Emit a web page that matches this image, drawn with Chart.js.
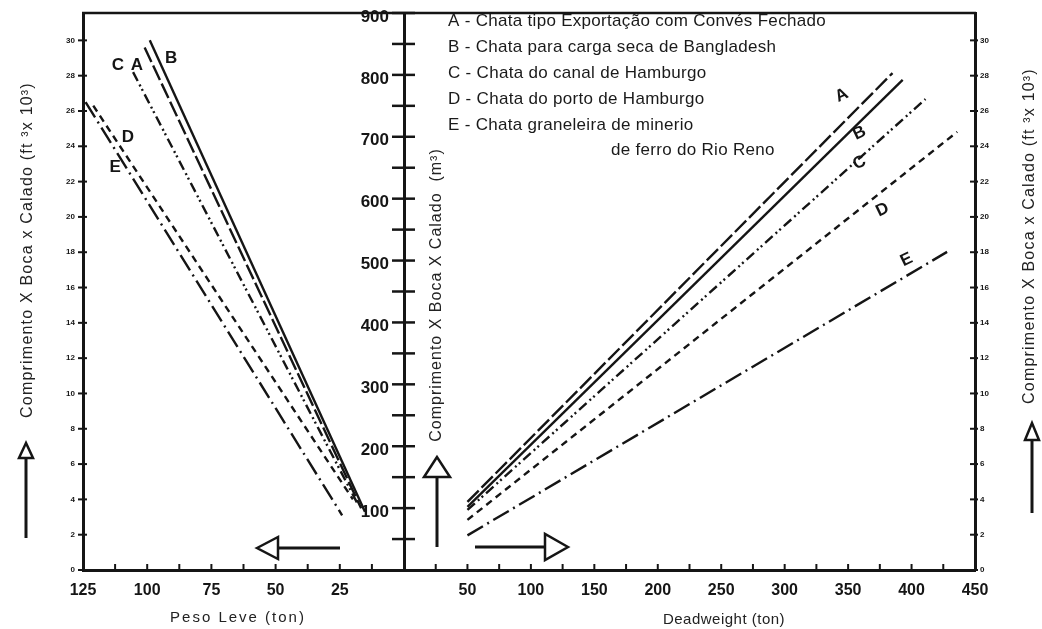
<!DOCTYPE html>
<html>
<head>
<meta charset="utf-8">
<script src="https://cdn.jsdelivr.net/npm/chart.js@4.4.0/dist/chart.umd.min.js"></script>
<style>
  html, body { margin: 0; padding: 0; background: #fff; }
  #wrap { position: relative; width: 1042px; height: 629px; overflow: hidden; }
  .box { position: absolute; top: 0; height: 629px; }
</style>
</head>
<body>
<div id="wrap">
  <div class="box" style="left:0;width:420px"><canvas id="leftChart"></canvas></div>
  <div class="box" style="left:340px;width:702px"><canvas id="rightChart"></canvas></div>
</div>
<script>
// Series (barge types)
var seriesLetters = ['A', 'B', 'C', 'D', 'E'];
var legendLines = [
    'A - Chata tipo Exportação com Convés Fechado',
    'B - Chata para carga seca de Bangladesh',
    'C - Chata do canal de Hamburgo',
    'D - Chata do porto de Hamburgo',
    'E - Chata graneleira de minerio'
];
var legendLast = 'de ferro do Rio Reno';

// Left panel: Peso Leve (ton) vs volume (ft3 x 10^3), end points of each line
var pesoLeveTop = [101, 99, 105.5, 121, 124];
var pesoLeveTopVol = [29.6, 30.0, 28.2, 26.3, 26.5];
var pesoLeveBottom = [16.7, 15.2, 17.9, 19.9, 24.1];
var pesoLeveBottomVol = [3.5, 3.3, 3.7, 4.0, 3.1];

// Right panel: Deadweight (ton) vs volume (m3), end points of each line
var deadweightStart = [50, 50, 50, 50, 50];
var deadweightStartVol = [110, 102, 97, 81, 56];
var deadweightEnd = [385, 393, 411, 436, 428];
var deadweightEndVol = [803, 792, 761, 708, 514];

// Ticks
var pesoLeveTicks = [0, 12.5, 25, 37.5, 50, 62.5, 75, 87.5, 100, 112.5, 125];
var pesoLeveLabels = [25, 50, 75, 100, 125];
var deadweightTicks = [0, 25, 50, 75, 100, 125, 150, 175, 200, 225, 250, 275, 300, 325, 350, 375, 400, 425, 450];
var deadweightLabels = [50, 100, 150, 200, 250, 300, 350, 400, 450];
var ft3Ticks = [0, 2, 4, 6, 8, 10, 12, 14, 16, 18, 20, 22, 24, 26, 28, 30];
var m3Ticks = [0, 50, 100, 150, 200, 250, 300, 350, 400, 450, 500, 550, 600, 650, 700, 750, 800, 850, 900];
var m3Labels = [100, 200, 300, 400, 500, 600, 700, 800, 900];

// Label spots for the letters (data coordinates)
var pesoLeveLetterX = [104, 90.7, 111.4, 107.5, 112.5];
var pesoLeveLetterY = [28.6, 29.0, 28.6, 24.5, 22.8];
var deadweightLetterX = [345, 359, 359, 377, 396];
var deadweightLetterY = [767, 706, 658, 582, 501];

var INK = '#151515';
var FONT = '"Liberation Sans", Arial, sans-serif';
var dashes = [[16, 4], [], [10, 4, 2, 3, 2, 4], [7, 5], [18, 5, 2, 5]];

function seg(ctx, x1, y1, x2, y2) {
    ctx.beginPath();
    ctx.moveTo(x1, y1);
    ctx.lineTo(x2, y2);
    ctx.stroke();
}

// hollow arrow pointing up
function arrowUp(ctx, x, tip, base, end, half) {
    ctx.lineWidth = 3;
    seg(ctx, x, base, x, end);
    ctx.lineWidth = 2.5;
    ctx.beginPath();
    ctx.moveTo(x, tip);
    ctx.lineTo(x - half, base);
    ctx.lineTo(x + half, base);
    ctx.closePath();
    ctx.fillStyle = '#fff';
    ctx.fill();
    ctx.stroke();
}

// hollow arrow pointing sideways
function arrowSide(ctx, y, tip, base, end, half) {
    ctx.lineWidth = 3;
    seg(ctx, base, y, end, y);
    ctx.lineWidth = 2.5;
    ctx.beginPath();
    ctx.moveTo(tip, y);
    ctx.lineTo(base, y - half);
    ctx.lineTo(base, y + half);
    ctx.closePath();
    ctx.fillStyle = '#fff';
    ctx.fill();
    ctx.stroke();
}

function spacedText(ctx, text, x, y, font, spacing) {
    ctx.font = font;
    ctx.letterSpacing = spacing || '0px';
    ctx.fillText(text, x, y);
    ctx.letterSpacing = '0px';
}

function vText(ctx, text, x, y, font, spacing) {
    ctx.save();
    ctx.translate(x, y);
    ctx.rotate(-Math.PI / 2);
    ctx.textAlign = 'center';
    ctx.textBaseline = 'middle';
    spacedText(ctx, text, 0, 0, font, spacing);
    ctx.restore();
}

function buildSets(xa, ya, xb, yb, axisId) {
    return seriesLetters.map(function(name, i) {
        return {
            label: name,
            data: [{ x: xa[i], y: ya[i] }, { x: xb[i], y: yb[i] }],
            yAxisID: axisId,
            borderColor: INK,
            borderWidth: 2.4,
            borderDash: dashes[i],
            pointRadius: 0,
            fill: false,
            tension: 0
        };
    });
}

function fixedTicks(values) {
    return function(scale) {
        scale.ticks = values.map(function(v) { return { value: v }; });
    };
}

// fixed axis box sizes so both charts line up with the picture
function boxWidth(w) {
    return function(s) { s.width = w; s.paddingTop = 0; s.paddingBottom = 0; };
}
function boxHeight(h) {
    return function(s) { s.height = h; s.paddingLeft = 0; s.paddingRight = 0; };
}

// ---------- Left chart (Peso Leve) ----------
var leftDecor = {
    id: 'leftDecor',
    afterDraw: function(chart) {
        var ctx = chart.ctx, a = chart.chartArea;
        var xs = chart.scales.x, ys = chart.scales.y;
        ctx.save();
        ctx.strokeStyle = INK;
        ctx.fillStyle = INK;
        ctx.lineWidth = 2.5;
        seg(ctx, a.left - 1, a.top, a.right, a.top);

        ctx.lineWidth = 2;
        pesoLeveTicks.forEach(function(v) {
            var px = xs.getPixelForValue(v);
            seg(ctx, px, a.bottom, px, a.bottom - 6);
        });
        ft3Ticks.forEach(function(v) {
            var py = ys.getPixelForValue(v);
            seg(ctx, a.left - 5, py, a.left + 4, py);
        });

        ctx.textAlign = 'center';
        ctx.textBaseline = 'middle';
        seriesLetters.forEach(function(name, i) {
            spacedText(ctx, name, xs.getPixelForValue(pesoLeveLetterX[i]), ys.getPixelForValue(pesoLeveLetterY[i]), 'bold 17px ' + FONT);
        });

        ctx.fillStyle = '#222';
        vText(ctx, 'Comprimento X Boca x Calado (ft \u00b3x 10\u00b3)', 28, 250, '16px ' + FONT, '1.2px');
        ctx.textAlign = 'center';
        spacedText(ctx, 'Peso Leve (ton)', 238, 618, '15px ' + FONT, '2px');

        ctx.strokeStyle = INK;
        arrowUp(ctx, 26, 443, 458, 538, 7);
        arrowSide(ctx, 548, 257, 278, 340, 11);
        ctx.restore();
    }
};

new Chart(document.getElementById('leftChart'), {
    type: 'line',
    data: { datasets: buildSets(pesoLeveTop, pesoLeveTopVol, pesoLeveBottom, pesoLeveBottomVol, 'y') },
    options: {
        responsive: true,
        maintainAspectRatio: false,
        animation: false,
        layout: { padding: { left: 0, top: 13, right: 16, bottom: 0 } },
        plugins: { legend: { display: false }, tooltip: { enabled: false } },
        scales: {
            x: {
                type: 'linear',
                reverse: true,
                min: 0,
                max: 125,
                afterBuildTicks: fixedTicks(pesoLeveTicks),
                afterFit: boxHeight(59),
                grid: { display: false, drawTicks: false },
                border: { display: true, width: 3, color: INK },
                ticks: {
                    autoSkip: false,
                    maxRotation: 0,
                    padding: 11,
                    color: INK,
                    font: { family: FONT, size: 16, weight: 'bold' },
                    callback: function(v) { return pesoLeveLabels.indexOf(v) >= 0 ? String(v) : ''; }
                }
            },
            y: {
                type: 'linear',
                position: 'left',
                min: 0,
                max: 31.55,
                afterBuildTicks: fixedTicks(ft3Ticks),
                afterFit: boxWidth(83),
                grid: { display: false, drawTicks: false },
                border: { display: true, width: 3, color: INK },
                ticks: {
                    autoSkip: false,
                    padding: 8,
                    color: INK,
                    font: { family: FONT, size: 8, weight: 'bold' }
                }
            }
        }
    },
    plugins: [leftDecor]
});

// ---------- Right chart (Deadweight) ----------
var OX = 340;
var rightDecor = {
    id: 'rightDecor',
    afterDraw: function(chart) {
        var ctx = chart.ctx, a = chart.chartArea;
        var xs = chart.scales.x, ys = chart.scales.m3, yr = chart.scales.ft3;
        ctx.save();
        ctx.strokeStyle = INK;
        ctx.fillStyle = INK;
        ctx.lineWidth = 2.5;
        seg(ctx, a.left, a.top, a.right + 1, a.top);

        ctx.lineWidth = 2;
        deadweightTicks.forEach(function(v) {
            var px = xs.getPixelForValue(v);
            seg(ctx, px, a.bottom, px, a.bottom - 6);
        });
        ctx.lineWidth = 2.5;
        m3Ticks.forEach(function(v) {
            if (v === 0) return;
            var py = ys.getPixelForValue(v);
            seg(ctx, a.left - 12, py, a.left + 11, py);
        });
        ctx.lineWidth = 2;
        ft3Ticks.forEach(function(v) {
            var py = yr.getPixelForValue(v);
            seg(ctx, a.right - 5, py, a.right + 3, py);
        });

        // legend
        ctx.fillStyle = '#1a1a1a';
        ctx.textAlign = 'left';
        ctx.textBaseline = 'middle';
        legendLines.forEach(function(t, i) {
            spacedText(ctx, t, 448 - OX, 21 + i * 26, '17px ' + FONT, '0.3px');
        });
        spacedText(ctx, legendLast, 611 - OX, 150, '17px ' + FONT, '0.3px');

        // letters next to the lines
        ctx.fillStyle = INK;
        ctx.textAlign = 'center';
        seriesLetters.forEach(function(name, i) {
            var px = xs.getPixelForValue(deadweightLetterX[i]);
            var py = ys.getPixelForValue(deadweightLetterY[i]);
            ctx.save();
            ctx.translate(px, py);
            ctx.rotate(-0.45);
            spacedText(ctx, name, 0, 0, 'bold 17px ' + FONT);
            ctx.restore();
        });

        ctx.fillStyle = '#222';
        vText(ctx, 'Comprimento X Boca X Calado  (m\u00b3)', 437 - OX, 295, '16px ' + FONT, '1px');
        vText(ctx, 'Comprimento X Boca x Calado (ft \u00b3x 10\u00b3)', 1030 - OX, 236, '16px ' + FONT, '1.2px');
        ctx.textAlign = 'center';
        spacedText(ctx, 'Deadweight (ton)', 724 - OX, 620, '15px ' + FONT, '0.5px');

        ctx.strokeStyle = INK;
        arrowUp(ctx, 437 - OX, 457, 477, 547, 13);
        arrowSide(ctx, 547, 568 - OX, 545 - OX, 475 - OX, 13);
        arrowUp(ctx, 1032 - OX, 423, 440, 513, 7);
        ctx.restore();
    }
};

new Chart(document.getElementById('rightChart'), {
    type: 'line',
    data: { datasets: buildSets(deadweightStart, deadweightStartVol, deadweightEnd, deadweightEndVol, 'm3') },
    options: {
        responsive: true,
        maintainAspectRatio: false,
        animation: false,
        layout: { padding: { left: 0, top: 13, right: 0, bottom: 0 } },
        plugins: { legend: { display: false }, tooltip: { enabled: false } },
        scales: {
            x: {
                type: 'linear',
                min: 0,
                max: 450,
                afterBuildTicks: fixedTicks(deadweightTicks),
                afterFit: boxHeight(59),
                grid: { display: false, drawTicks: false },
                border: { display: true, width: 3, color: INK },
                ticks: {
                    autoSkip: false,
                    maxRotation: 0,
                    padding: 11,
                    color: INK,
                    font: { family: FONT, size: 16, weight: 'bold' },
                    callback: function(v) { return deadweightLabels.indexOf(v) >= 0 ? String(v) : ''; }
                }
            },
            m3: {
                type: 'linear',
                position: 'left',
                min: 0,
                max: 900,
                afterBuildTicks: fixedTicks(m3Ticks),
                afterFit: boxWidth(64),
                grid: { display: false, drawTicks: false },
                border: { display: true, width: 3, color: INK },
                ticks: {
                    autoSkip: false,
                    padding: 15,
                    labelOffset: 4,
                    color: INK,
                    font: { family: FONT, size: 17, weight: 'bold' },
                    callback: function(v) { return m3Labels.indexOf(v) >= 0 ? String(v) : ''; }
                }
            },
            ft3: {
                type: 'linear',
                position: 'right',
                min: 0,
                max: 31.55,
                afterBuildTicks: fixedTicks(ft3Ticks),
                afterFit: boxWidth(67),
                grid: { display: false, drawTicks: false },
                border: { display: true, width: 3, color: INK },
                ticks: {
                    autoSkip: false,
                    padding: 5,
                    color: INK,
                    font: { family: FONT, size: 8, weight: 'bold' }
                }
            }
        }
    },
    plugins: [rightDecor]
});
</script>
</body>
</html>
